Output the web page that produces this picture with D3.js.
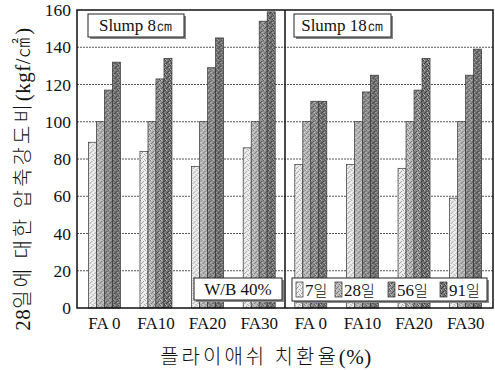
<!DOCTYPE html>
<html>
<head>
<meta charset="utf-8">
<script src="https://cdn.jsdelivr.net/npm/d3@7"></script>
<style>
  html, body { margin: 0; padding: 0; background: #fff; }
  svg { display: block; }
</style>
</head>
<body>
<svg id="chart" width="495" height="370"></svg>
<script>
// Strength ratio relative to 28-day strength, by fly-ash replacement and age
const panels = ["Slump 8㎝", "Slump 18㎝"];
const mixes = ["FA 0", "FA10", "FA20", "FA30"];
const ages = ["7일", "28일", "56일", "91일"];
// rows = mixes, columns = ages
const slump8 = [
  [89, 100, 117, 132],
  [84, 100, 123, 134],
  [76, 100, 129, 145],
  [86, 100, 154, 159]
];
const slump18 = [
  [77, 100, 111, 111],
  [77, 100, 116, 125],
  [75, 100, 117, 134],
  [59, 100, 125, 139]
];
const yTicks = [0, 20, 40, 60, 80, 100, 120, 140, 160];
const noteText = "W/B 40%";
const xTitleParts = [["플라이애쉬 치환율", "kr"], ["(%)", "serif"]];
const yTitleParts = [["28", "serif"], ["일에 대한 압축강도비", "kr"], ["(kgf/", "serif"], ["㎠", "kr"], [")", "serif"]];

const svg = d3.select("#chart");
const plotL = 77, plotR = 493, plotT = 10, plotB = 308;
const serif = "'Liberation Serif', 'DejaVu Serif', serif";
const kr = "'Noto Sans CJK KR', sans-serif";

// Stippled grey fills for the four ages
const tones = [
  { base: "#ebebeb", dot: "#a0a0a0" },
  { base: "#b8b8b8", dot: "#777" },
  { base: "#8e8e8e", dot: "#505050" },
  { base: "#747474", dot: "#3a3a3a" }
];
const defs = svg.append("defs");
tones.forEach((t, i) => {
  const p = defs.append("pattern").attr("id", "pat" + i)
    .attr("patternUnits", "userSpaceOnUse").attr("width", 5).attr("height", 5);
  p.append("rect").attr("width", 5).attr("height", 5).attr("fill", t.base);
  [[0, 0], [3, 1], [1, 3], [4, 4], [2, 2]].forEach(([dx, dy]) =>
    p.append("rect").attr("x", dx).attr("y", dy).attr("width", 1).attr("height", 1).attr("fill", t.dot));
  [[1, 0], [4, 2], [0, 4]].forEach(([dx, dy]) =>
    p.append("rect").attr("x", dx).attr("y", dy).attr("width", 1).attr("height", 1).attr("fill", "#fff").attr("opacity", 0.5));
});

// Flatten panels x mixes into one band domain
const groups = [];
[slump8, slump18].forEach((rows, pi) => rows.forEach((vals, mi) =>
  groups.push({ key: pi + "-" + mi, panel: pi, mix: mixes[mi], vals })));

const x = d3.scaleBand().domain(groups.map(g => g.key))
  .range([plotL, plotR]).paddingInner(0.38).paddingOuter(0.22);
const xs = d3.scaleBand().domain(ages).range([0, x.bandwidth()]);
const y = d3.scaleLinear().domain([0, 160]).range([plotB, plotT]);

// Grid lines
svg.append("g").selectAll("line").data(yTicks.filter(v => v > 0 && v < 160)).join("line")
  .attr("x1", plotL).attr("x2", plotR)
  .attr("y1", d => y(d)).attr("y2", d => y(d))
  .attr("stroke", "#555").attr("stroke-width", 1).attr("stroke-dasharray", "2,1");

// Bars
const gg = svg.append("g").selectAll("g").data(groups).join("g")
  .attr("transform", d => `translate(${x(d.key)},0)`);
gg.selectAll("rect").data(d => d.vals.map((v, i) => ({ v, i }))).join("rect")
  .attr("x", d => xs(ages[d.i]))
  .attr("y", d => y(d.v))
  .attr("width", xs.bandwidth())
  .attr("height", d => y(0) - y(d.v))
  .attr("fill", d => `url(#pat${d.i})`)
  .attr("stroke", "#333").attr("stroke-width", 0.7);

// Plot frame and panel divider
svg.append("rect").attr("x", plotL).attr("y", plotT)
  .attr("width", plotR - plotL).attr("height", plotB - plotT)
  .attr("fill", "none").attr("stroke", "#111").attr("stroke-width", 1.5);
const divX = (x(groups[3].key) + x.bandwidth() + x(groups[4].key)) / 2;
svg.append("line").attr("x1", divX).attr("x2", divX).attr("y1", plotT).attr("y2", plotB)
  .attr("stroke", "#111").attr("stroke-width", 1.5);

// Y axis labels
const yAxis = d3.axisLeft(y).tickValues(yTicks).tickSize(0).tickPadding(6);
const ya = svg.append("g").attr("transform", `translate(${plotL},0)`).call(yAxis);
ya.select(".domain").remove();
ya.selectAll("text").attr("font-family", serif).attr("font-size", 17.5).attr("fill", "#111");

// X labels
const xAxis = d3.axisBottom(x).tickSize(0).tickPadding(9).tickFormat(k => groups.find(g => g.key === k).mix);
const xa = svg.append("g").attr("transform", `translate(0,${plotB})`).call(xAxis);
xa.select(".domain").remove();
xa.selectAll("text").attr("font-family", serif).attr("font-size", 17).attr("fill", "#111");

// Axis titles, mixing Korean and serif runs
function mixedText(sel, parts) {
  parts.forEach(([s, f]) => {
    sel.append("tspan").attr("font-family", f === "kr" ? kr : serif)
      .attr("font-size", f === "kr" ? 20 : 21).attr("font-weight", f === "kr" ? 300 : 400)
      .attr("letter-spacing", f === "kr" ? 3 : 0.5).text(s);
  });
}
const xt = svg.append("text").attr("x", 266).attr("y", 364)
  .attr("text-anchor", "middle").attr("fill", "#111");
mixedText(xt, xTitleParts);

const yt = svg.append("text").attr("transform", "translate(30,179) rotate(-90)")
  .attr("text-anchor", "middle").attr("fill", "#111");
mixedText(yt, yTitleParts);

// Labelled boxes
function labelBox(x0, y0, w, h, shadow) {
  const g = svg.append("g");
  if (shadow) g.append("rect").attr("x", x0 + 2).attr("y", y0 + 2).attr("width", w).attr("height", h)
    .attr("fill", "#888");
  g.append("rect").attr("x", x0).attr("y", y0).attr("width", w).attr("height", h)
    .attr("fill", "#fff").attr("stroke", "#222").attr("stroke-width", 1);
  return g;
}
const pStart = [plotL, divX];
panels.forEach((name, i) => {
  const w = i === 0 ? 96 : 97;
  const g = labelBox(pStart[i] + (i === 0 ? 11 : 9), 14, w, 23, true);
  g.append("text").attr("x", pStart[i] + (i === 0 ? 11 : 9) + w / 2).attr("y", 31)
    .attr("text-anchor", "middle").attr("font-family", serif).attr("font-size", 17)
    .attr("fill", "#111").text(name);
});

const nb = labelBox(194, 278, 88, 22, true);
nb.append("text").attr("x", 238).attr("y", 295).attr("text-anchor", "middle")
  .attr("font-family", serif).attr("font-size", 17).attr("fill", "#111").text(noteText);

// Legend
const lg = labelBox(292, 278, 195, 23, true);
const legX = [296, 335, 388, 440];
ages.forEach((a, i) => {
  lg.append("rect").attr("x", legX[i]).attr("y", 282).attr("width", 7).attr("height", 15)
    .attr("fill", `url(#pat${i})`).attr("stroke", "#333").attr("stroke-width", 0.7);
  const t = lg.append("text").attr("x", legX[i] + 9).attr("y", 296)
    .attr("fill", "#111").attr("font-size", 17);
  t.append("tspan").attr("font-family", serif).text(a.replace("일", ""));
  t.append("tspan").attr("font-family", kr).attr("font-size", 15).attr("font-weight", 300).text("일");
});
</script>
</body>
</html>
